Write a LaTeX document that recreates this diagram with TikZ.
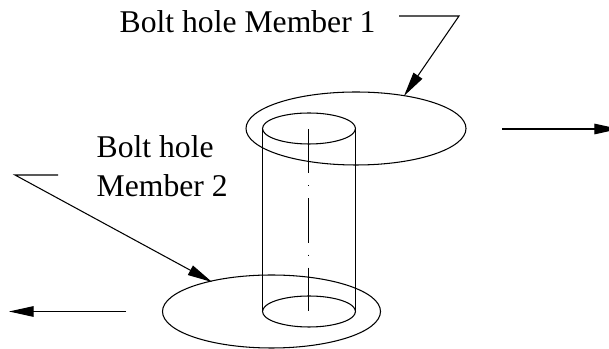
\documentclass[tikz,border=0pt]{standalone}
\usepackage{fontspec}
\setmainfont{Liberation Serif}
\usetikzlibrary{arrows.meta}
\tikzset{
  leader/.style={line width=0.3pt,-{Triangle[length=7pt,width=3pt]}},
  axisline/.style={line width=0.3pt,dash pattern=on 12.6pt off 3.4pt on 0.3pt off 3.4pt},
  edge/.style={line width=0.3pt},
  callout/.style={font=\fontsize{9}{11}\selectfont,inner sep=0pt,anchor=base west,align=left}
}
\begin{document}
\begin{tikzpicture}[x=0.01cm,y=-0.01cm]
    \useasboundingbox (0,0) rectangle (609,349);
    % plates
    \draw[edge] (356,128.5) ellipse [x radius=110,y radius=36.5];
    \draw[edge] (271.5,311.5) ellipse [x radius=109,y radius=36.5];
    % bolt
    \draw[edge] (309,128.5) ellipse [x radius=46.5,y radius=15.5];
    \draw[edge] (309,311.5) ellipse [x radius=46.5,y radius=15.5];
    \draw[edge] (262.5,128.5) -- (262.5,311.5);
    \draw[edge] (355.5,128.5) -- (355.5,311.5);
    \draw[axisline] (308.5,129) -- (308.5,311.5);
    % labels
    \node[callout] (labelone) at (119,33) {Bolt hole Member 1};
    \node[callout] (labeltwo) at (96,158) {Bolt hole};
    \node[callout] (labelthree) at (96,197) {Member 2};
    % leaders
    \coordinate (kneeone) at (459,16);
    \coordinate (starta) at (399,16);
    \coordinate (tipone) at (404,96);
    \coordinate (kneetwo) at (15,175);
    \coordinate (startb) at (58,175);
    \coordinate (tiptwo) at (212,282);
    \draw[leader] (starta) -- (kneeone) -- (tipone);
    \draw[leader] (startb) -- (kneetwo) -- (tiptwo);
    % load arrows
    \coordinate (rightstart) at (502,129);
    \coordinate (rightend) at (619,129);
    \coordinate (leftstart) at (126,311.5);
    \coordinate (leftend) at (9,311.5);
    \draw[leader] (rightstart) -- (rightend);
    \draw[leader] (leftstart) -- (leftend);
  \end{tikzpicture}
\end{document}
